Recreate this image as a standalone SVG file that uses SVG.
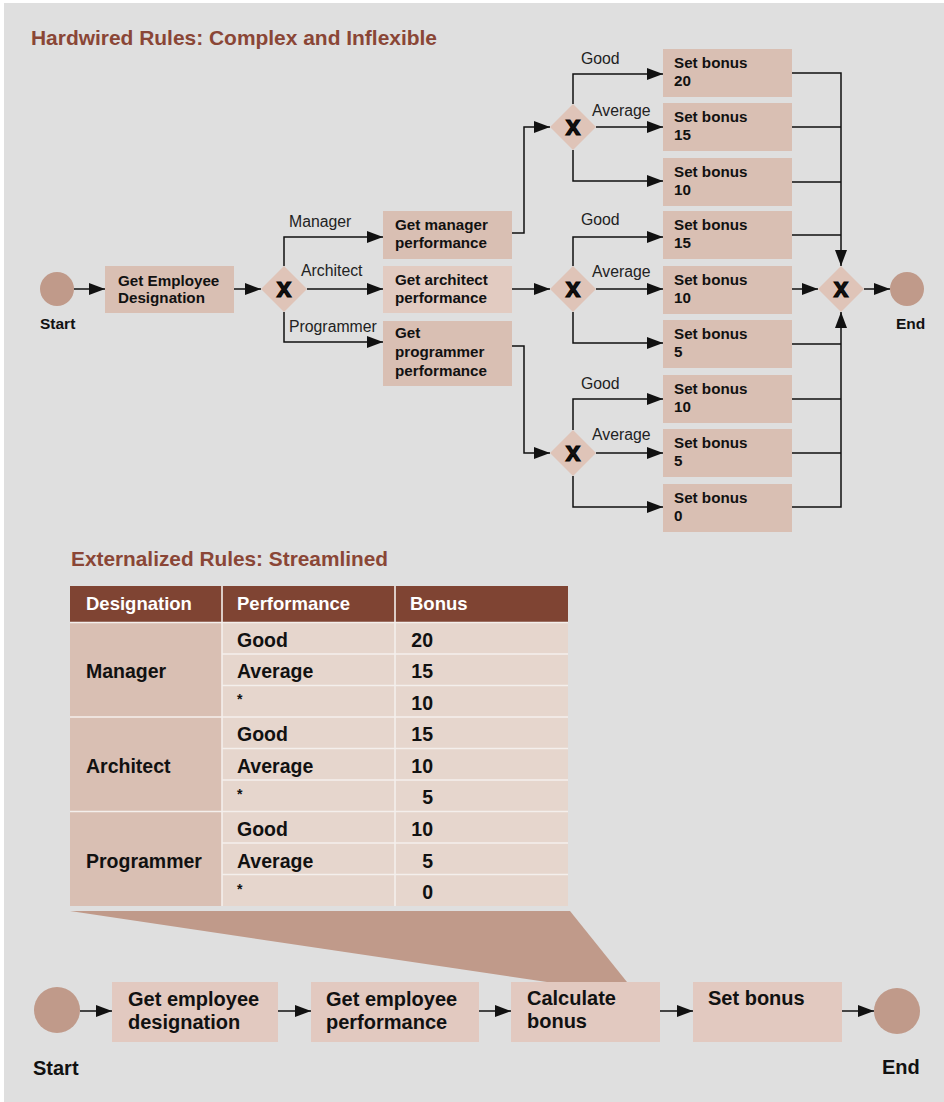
<svg xmlns="http://www.w3.org/2000/svg" width="944" height="1102" viewBox="0 0 944 1102">
<style>
text{font-family:"Liberation Sans",Arial,sans-serif;fill:#111}
.title{font-size:20.5px;font-weight:bold;fill:#8a4636}
.bx{font-size:15.2px;font-weight:bold}
.lbl{font-size:15.8px;fill:#222}
.ev{font-size:15.5px;font-weight:bold}
.gx{font-size:27px;font-weight:bold;text-anchor:middle;stroke:#000;stroke-width:1}
.th{font-size:18.5px;font-weight:bold;fill:#fff}
.td{font-size:19.5px;font-weight:bold}
.num{font-size:19.5px;font-weight:bold;text-anchor:end}
.big{font-size:20px;font-weight:bold}
.box{fill:#d9bfb3}
.boxl{fill:#e2cbc1}
.bbox{fill:#e2c9c0}
.dia{fill:#dfc4b8}
.ev-c{fill:#c09a8a}
.con{fill:none;stroke:#111;stroke-width:1.5}
.grid{stroke:#f4efec;stroke-width:1.6}
</style>
<defs>
<marker id="ah" markerUnits="userSpaceOnUse" markerWidth="16" markerHeight="12" refX="16" refY="6" orient="auto">
<path d="M0,0 L16,6 L0,12 z" fill="#111"/>
</marker>
</defs>
<rect x="4" y="3" width="940" height="1099" fill="#dfdfdf"/>

<text class="title" x="31" y="45" textLength="406" lengthAdjust="spacingAndGlyphs">Hardwired Rules: Complex and Inflexible</text>

<g id="connectors-top">
<path class="con" d="M74,289 H105" marker-end="url(#ah)"/>
<path class="con" d="M234,289 H261" marker-end="url(#ah)"/>
<path class="con" d="M284,266 V237 H383" marker-end="url(#ah)"/>
<path class="con" d="M307,289 H383" marker-end="url(#ah)"/>
<path class="con" d="M284,312 V342 H383" marker-end="url(#ah)"/>
<path class="con" d="M512,233 H524 V127 H550" marker-end="url(#ah)"/>
<path class="con" d="M512,289 H550" marker-end="url(#ah)"/>
<path class="con" d="M512,346 H524 V453 H550" marker-end="url(#ah)"/>
<path class="con" d="M573,104 V74 H663" marker-end="url(#ah)"/>
<path class="con" d="M596,127 H663" marker-end="url(#ah)"/>
<path class="con" d="M573,150 V181 H663" marker-end="url(#ah)"/>
<path class="con" d="M573,266 V237 H663" marker-end="url(#ah)"/>
<path class="con" d="M596,289 H663" marker-end="url(#ah)"/>
<path class="con" d="M573,312 V343 H663" marker-end="url(#ah)"/>
<path class="con" d="M573,430 V399 H663" marker-end="url(#ah)"/>
<path class="con" d="M596,453 H663" marker-end="url(#ah)"/>
<path class="con" d="M573,476 V507 H663" marker-end="url(#ah)"/>
<path class="con" d="M792,73 H841 V266" marker-end="url(#ah)"/>
<path class="con" d="M792,127 H841 M792,182 H841 M792,235 H841"/>
<path class="con" d="M792,289 H818" marker-end="url(#ah)"/>
<path class="con" d="M792,507 H841 V312" marker-end="url(#ah)"/>
<path class="con" d="M792,344 H841 M792,399 H841 M792,453 H841"/>
<path class="con" d="M864,289 H890" marker-end="url(#ah)"/>
</g>
<g id="labels-top">
<text class="lbl" x="289" y="227">Manager</text>
<text class="lbl" x="301" y="276">Architect</text>
<text class="lbl" x="289" y="332">Programmer</text>
<text class="lbl" x="581" y="64">Good</text>
<text class="lbl" x="592" y="116">Average</text>
<text class="lbl" x="581" y="225">Good</text>
<text class="lbl" x="592" y="277">Average</text>
<text class="lbl" x="581" y="389">Good</text>
<text class="lbl" x="592" y="440">Average</text>
</g>

<g id="start-top"><circle class="ev-c" cx="57" cy="289" r="17"/><text class="ev" x="40" y="329">Start</text></g>
<g id="get-designation"><rect class="box" x="105" y="266" width="129" height="47"/><text class="bx" x="118" y="286">Get Employee</text><text class="bx" x="118" y="303">Designation</text></g>
<g id="gw-designation"><polygon class="dia" points="284,266 307,289 284,312 261,289"/><text class="gx" x="284" y="297">x</text></g>
<g id="get-manager"><rect class="box" x="383" y="211" width="129" height="48"/><text class="bx" x="395" y="230">Get manager</text><text class="bx" x="395" y="248">performance</text></g>
<g id="get-architect"><rect class="boxl" x="383" y="266" width="129" height="47"/><text class="bx" x="395" y="285">Get architect</text><text class="bx" x="395" y="303">performance</text></g>
<g id="get-programmer"><rect class="box" x="383" y="321" width="129" height="65"/><text class="bx" x="395" y="338">Get</text><text class="bx" x="395" y="357">programmer</text><text class="bx" x="395" y="376">performance</text></g>
<g id="gw-manager"><polygon class="dia" points="573,104 596,127 573,150 550,127"/><text class="gx" x="573" y="135">x</text></g>
<g id="gw-architect"><polygon class="dia" points="573,266 596,289 573,312 550,289"/><text class="gx" x="573" y="297">x</text></g>
<g id="gw-programmer"><polygon class="dia" points="573,430 596,453 573,476 550,453"/><text class="gx" x="573" y="461">x</text></g>

<g id="bonus-m20"><rect class="box" x="663" y="49" width="129" height="48"/><text class="bx" x="674" y="68">Set bonus</text><text class="bx" x="674" y="86">20</text></g>
<g id="bonus-m15"><rect class="box" x="663" y="103" width="129" height="48"/><text class="bx" x="674" y="122">Set bonus</text><text class="bx" x="674" y="140">15</text></g>
<g id="bonus-m10"><rect class="box" x="663" y="158" width="129" height="48"/><text class="bx" x="674" y="177">Set bonus</text><text class="bx" x="674" y="195">10</text></g>
<g id="bonus-a15"><rect class="box" x="663" y="211" width="129" height="48"/><text class="bx" x="674" y="230">Set bonus</text><text class="bx" x="674" y="248">15</text></g>
<g id="bonus-a10"><rect class="box" x="663" y="266" width="129" height="48"/><text class="bx" x="674" y="285">Set bonus</text><text class="bx" x="674" y="303">10</text></g>
<g id="bonus-a5"><rect class="box" x="663" y="320" width="129" height="48"/><text class="bx" x="674" y="339">Set bonus</text><text class="bx" x="674" y="357">5</text></g>
<g id="bonus-p10"><rect class="box" x="663" y="375" width="129" height="48"/><text class="bx" x="674" y="394">Set bonus</text><text class="bx" x="674" y="412">10</text></g>
<g id="bonus-p5"><rect class="box" x="663" y="429" width="129" height="48"/><text class="bx" x="674" y="448">Set bonus</text><text class="bx" x="674" y="466">5</text></g>
<g id="bonus-p0"><rect class="box" x="663" y="484" width="129" height="48"/><text class="bx" x="674" y="503">Set bonus</text><text class="bx" x="674" y="521">0</text></g>

<g id="gw-merge"><polygon class="dia" points="841,266 864,289 841,312 818,289"/><text class="gx" x="841" y="297">x</text></g>
<g id="end-top"><circle class="ev-c" cx="907" cy="289" r="17"/><text class="ev" x="896" y="329">End</text></g>

<text class="title" x="71" y="566" textLength="317" lengthAdjust="spacingAndGlyphs">Externalized Rules: Streamlined</text>
<g id="rules-table">
<rect x="70" y="586" width="498" height="36" fill="#7f4433"/>
<rect x="70" y="622" width="152" height="284" fill="#d9bfb3"/>
<rect x="222" y="622" width="346" height="284" fill="#e6d6cd"/>
<g class="grid">
<line x1="222" y1="586" x2="222" y2="906"/>
<line x1="395" y1="586" x2="395" y2="906"/>
<line x1="70" y1="622.5" x2="568" y2="622.5"/>
<line x1="222" y1="654" x2="568" y2="654"/>
<line x1="222" y1="685.5" x2="568" y2="685.5"/>
<line x1="70" y1="717" x2="568" y2="717"/>
<line x1="222" y1="748.5" x2="568" y2="748.5"/>
<line x1="222" y1="780" x2="568" y2="780"/>
<line x1="70" y1="811.5" x2="568" y2="811.5"/>
<line x1="222" y1="843" x2="568" y2="843"/>
<line x1="222" y1="874.5" x2="568" y2="874.5"/>
</g>
<text class="th" x="86" y="610">Designation</text>
<text class="th" x="237" y="610">Performance</text>
<text class="th" x="410" y="610">Bonus</text>
<text class="td" x="86" y="678">Manager</text>
<text class="td" x="86" y="773">Architect</text>
<text class="td" x="86" y="868">Programmer</text>
<text class="td" x="237" y="647">Good</text>
<text class="td" x="237" y="678">Average</text>
<text class="td" x="237" y="704" style="font-size:14px">*</text>
<text class="td" x="237" y="741">Good</text>
<text class="td" x="237" y="773">Average</text>
<text class="td" x="237" y="799" style="font-size:14px">*</text>
<text class="td" x="237" y="836">Good</text>
<text class="td" x="237" y="868">Average</text>
<text class="td" x="237" y="894" style="font-size:14px">*</text>
<text class="num" x="433" y="647">20</text>
<text class="num" x="433" y="678">15</text>
<text class="num" x="433" y="710">10</text>
<text class="num" x="433" y="741">15</text>
<text class="num" x="433" y="773">10</text>
<text class="num" x="433" y="804">5</text>
<text class="num" x="433" y="836">10</text>
<text class="num" x="433" y="868">5</text>
<text class="num" x="433" y="899">0</text>
</g>

<polygon id="zoom-wedge" points="70,911 570,911 627,982 547,982" fill="#c09a8a"/>

<g id="connectors-bottom">
<path class="con" d="M80,1011 H112" marker-end="url(#ah)"/>
<path class="con" d="M278,1011 H311" marker-end="url(#ah)"/>
<path class="con" d="M479,1011 H511" marker-end="url(#ah)"/>
<path class="con" d="M660,1011 H693" marker-end="url(#ah)"/>
<path class="con" d="M842,1011 H874" marker-end="url(#ah)"/>
</g>
<g id="start-bottom"><circle class="ev-c" cx="57" cy="1010" r="23"/><text class="big" x="33" y="1075">Start</text></g>
<g id="b-designation"><rect class="bbox" x="112" y="982" width="166" height="60"/><text class="big" x="128" y="1006">Get employee</text><text class="big" x="128" y="1029">designation</text></g>
<g id="b-performance"><rect class="bbox" x="311" y="982" width="168" height="60"/><text class="big" x="326" y="1006">Get employee</text><text class="big" x="326" y="1029">performance</text></g>
<g id="b-calculate"><rect class="bbox" x="511" y="982" width="149" height="60"/><text class="big" x="527" y="1005">Calculate</text><text class="big" x="527" y="1028">bonus</text></g>
<g id="b-setbonus"><rect class="bbox" x="693" y="982" width="149" height="60"/><text class="big" x="708" y="1005">Set bonus</text></g>
<g id="end-bottom"><circle class="ev-c" cx="897" cy="1011" r="23"/><text class="big" x="882" y="1074">End</text></g>
</svg>
